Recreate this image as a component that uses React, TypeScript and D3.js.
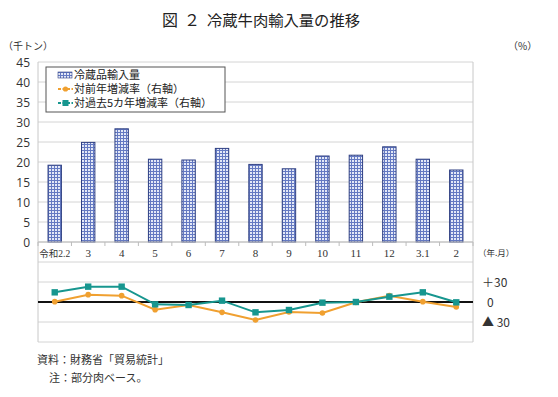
import React from 'react';
import * as d3 from 'd3';

// data
const months = ['令和2.2', '3', '4', '5', '6', '7', '8', '9', '10', '11', '12', '3.1', '2'];
const imports = [19.2, 24.9, 28.3, 20.7, 20.5, 23.4, 19.4, 18.3, 21.5, 21.7, 23.8, 20.7, 18.0];
const yoyRate = [0.5, 11, 9.5, -11.5, -4.5, -15.5, -27, -15, -16.5, -0.5, 9.5, 0.5, -7.5];
const vs5yRate = [14.5, 23, 23, -3.5, -4.5, 2, -15.5, -12, -1, 0, 8, 14.5, -0.5];
const leftTicks = [0, 5, 10, 15, 20, 25, 30, 35, 40, 45];
const rightTicks = [
  { v: 30, label: '＋30' },
  { v: 0, label: '0' },
  { v: -30, label: '▲ 30' },
];

const W = 558;
const H = 397;
const left = 38;
const right = 473;
const top = 62;
const bottom = 342;

const sans = '"Open Sans", "Noto Sans CJK JP", sans-serif';
const jp = '"Noto Sans CJK JP", sans-serif';
const orange = '#f0a030';
const teal = '#17968f';

function App() {
  const x = d3.scaleBand().domain(months).range([left, right]).paddingInner(0.6).paddingOuter(0.3);
  const step = x.step();
  const xc = (m: string) => (x(m) as number) + x.bandwidth() / 2;
  const y = d3.scaleLinear().domain([-25, 45]).range([bottom, top]);
  const yr = d3.scaleLinear().domain([-60, 60]).range([bottom, 262]);
  const grid = d3.range(-25, 46, 5);

  const yoyLine = d3.line<number>().x((_, i) => xc(months[i])).y((d) => yr(d));
  const fiveLine = d3.line<number>().x((_, i) => xc(months[i])).y((d) => yr(d));

  return (
    <svg width={W} height={H} style={{ position: 'absolute', left: 0, top: 0, background: '#fff' }}>
      <defs>
        <pattern id="hatch" width="3" height="3" patternUnits="userSpaceOnUse">
          <rect width="3" height="3" fill="#e3e8f7" />
          <path d="M0,0.5H3M0.5,0V3" stroke="#6479c2" strokeWidth="1" />
        </pattern>
      </defs>

      <text x={162} y={26} fontFamily={jp} fontSize={16} fill="#222">図</text>
      <text x={184} y={26} fontFamily={jp} fontSize={16} fill="#222">２</text>
      <text x={207} y={26} fontFamily={jp} fontSize={15.3} fill="#222" textLength={153} lengthAdjust="spacingAndGlyphs">
        冷蔵牛肉輸入量の推移
      </text>
      <text x={3} y={50} fontFamily={jp} fontSize={10} fill="#333">（千トン）</text>
      <text x={508} y={50} fontFamily={jp} fontSize={10} fill="#333">（%）</text>

      {/* gridlines */}
      {grid.map((g) => (
        <line key={g} x1={left} x2={right} y1={y(g)} y2={y(g)} stroke="#d4d4d4" strokeWidth={1} />
      ))}
      <line x1={left} x2={left} y1={top} y2={bottom} stroke="#c8c8c8" />
      <line x1={right} x2={right} y1={top} y2={bottom} stroke="#c8c8c8" />

      {/* left axis */}
      {leftTicks.map((t) => (
        <text key={t} x={30} y={y(t) + 4.5} textAnchor="end" fontFamily={sans} fontSize={12} fill="#333">
          {t}
        </text>
      ))}

      {/* bars */}
      {imports.map((v, i) => (
        <rect
          key={i}
          x={x(months[i])}
          y={y(v)}
          width={x.bandwidth()}
          height={y(0) - y(v)}
          fill="url(#hatch)"
          stroke="#2e3f82"
          strokeWidth={1}
        />
      ))}

      {/* category axis */}
      <line x1={left} x2={right} y1={y(0)} y2={y(0)} stroke="#bcbcbc" />
      {d3.range(months.length + 1).map((i) => (
        <line key={i} x1={left + i * step} x2={left + i * step} y1={y(0)} y2={y(0) + 4} stroke="#bcbcbc" />
      ))}
      {months.map((m) => (
        <text key={m} x={xc(m)} y={257} textAnchor="middle" fontFamily={'"Liberation Serif", "Noto Sans CJK JP", serif'} fontSize={m.length > 3 ? 9.5 : 11} fill="#333">
          {m}
        </text>
      ))}
      <text x={478} y={256} fontFamily={jp} fontSize={8.5} fill="#333">（年.月）</text>

      {/* rate lines */}
      <line x1={left} x2={right} y1={yr(0)} y2={yr(0)} stroke="#111" strokeWidth={2} />
      <path d={yoyLine(yoyRate) || ''} fill="none" stroke={orange} strokeWidth={2} />
      {yoyRate.map((v, i) => (
        <circle key={i} cx={xc(months[i])} cy={yr(v)} r={2.8} fill={orange} />
      ))}
      <path d={fiveLine(vs5yRate) || ''} fill="none" stroke={teal} strokeWidth={2} />
      {vs5yRate.map((v, i) => (
        <rect key={i} x={xc(months[i]) - 3.2} y={yr(v) - 3.2} width={6.4} height={6.4} fill={teal} />
      ))}

      {/* right axis */}
      {rightTicks.map((t) => (
        <text key={t.v} x={t.v === 0 ? 487 : 482} y={yr(t.v) + 4.5} fontFamily={jp} fontSize={12} fill="#333">
          {t.label}
        </text>
      ))}

      {/* legend */}
      <rect x={46} y={67} width={179} height={45} fill="#fff" stroke="#555" strokeWidth={1} />
      <rect x={58} y={72} width={14} height={6} fill="url(#hatch)" stroke="#2e3f82" strokeWidth={0.6} />
      <text x={74} y={79} fontFamily={jp} fontSize={11} fill="#222">冷蔵品輸入量</text>
      <line x1={58} x2={73} y1={89} y2={89} stroke={orange} strokeWidth={2} strokeDasharray="3,1.5" />
      <circle cx={65.5} cy={89} r={2.6} fill={orange} />
      <text x={74} y={93} fontFamily={jp} fontSize={11} fill="#222">対前年増減率（右軸）</text>
      <line x1={58} x2={73} y1={103} y2={103} stroke={teal} strokeWidth={2} strokeDasharray="3,1.5" />
      <rect x={62.5} y={100} width={6} height={6} fill={teal} />
      <text x={74} y={107} fontFamily={jp} fontSize={11} fill="#222">対過去5カ年増減率（右軸）</text>

      {/* notes */}
      <text x={37} y={364} fontFamily={jp} fontSize={11} fill="#333">資料：財務省「貿易統計」</text>
      <text x={49} y={382} fontFamily={jp} fontSize={11} fill="#333">注：部分肉ベース。</text>
    </svg>
  );
}

export default App;
